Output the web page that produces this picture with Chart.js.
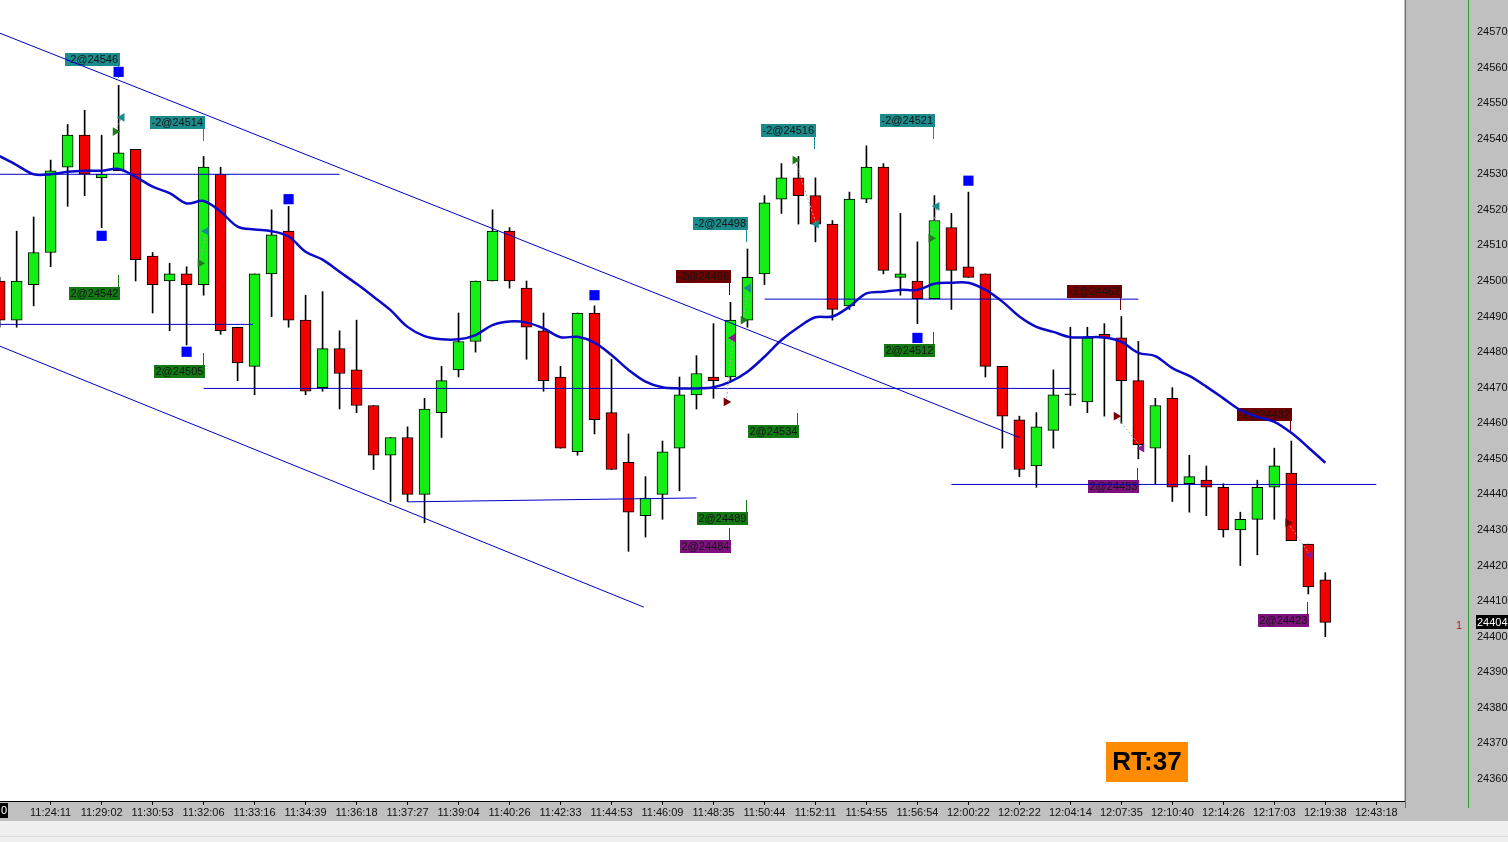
<!DOCTYPE html>
<html><head><meta charset="utf-8">
<script src="https://cdn.jsdelivr.net/npm/chart.js@4.4.1/dist/chart.umd.min.js"></script>
<style>html,body{margin:0;padding:0;background:#fff;overflow:hidden}#wrap{width:1508px;height:842px;position:relative}</style>
</head><body><div id="wrap"><canvas id="c" width="1508" height="842"></canvas></div>
<script>
// ---- candle data (one candle per index) ----
const opens  = [24500,24489,24499,24508,24532,24541,24529,24531,24537,24507,24500,24502,24499,24530,24487,24476,24502,24514,24489,24470,
                24481,24475,24465,24451,24456,24440,24463,24475,24483,24500,24514,24498,24486,24473,24452,24491,24463,24449,24434,24440,
                24453,24468,24473,24473,24489,24502,24523,24529,24524,24516,24493,24523,24532,24501,24500,24495,24515,24504,24502,24476,
                24461,24448,24458,24468,24466,24485,24484,24472,24453,24467,24443,24444,24442,24430,24433,24442,24446,24426,24416];
const highs  = [24501,24514,24518,24534,24544,24548,24541,24555,24537,24508,24505,24504,24535,24532,24487,24502,24520,24521,24496,24497,
                24486,24489,24465,24456,24459,24467,24476,24491,24500,24520,24515,24500,24491,24476,24491,24493,24478,24457,24445,24455,
                24473,24479,24488,24494,24509,24524,24533,24535,24529,24517,24525,24538,24533,24519,24511,24524,24519,24525,24502,24476,
                24462,24463,24475,24487,24487,24488,24490,24483,24467,24470,24451,24448,24443,24435,24444,24453,24455,24426,24418];
const lows   = [24487,24487,24493,24504,24521,24524,24515,24531,24500,24491,24486,24482,24496,24485,24472,24468,24490,24487,24468,24469,
                24464,24463,24447,24438,24438,24432,24456,24473,24480,24500,24498,24478,24469,24453,24451,24457,24447,24424,24428,24433,
                24441,24464,24467,24472,24487,24499,24519,24516,24511,24489,24492,24522,24502,24496,24488,24495,24492,24501,24473,24453,
                24445,24442,24453,24465,24463,24462,24460,24450,24443,24438,24435,24434,24428,24420,24423,24433,24427,24412,24400];
const closes = [24489,24500,24508,24531,24541,24530,24530,24536,24506,24499,24502,24499,24532,24486,24477,24502,24513,24489,24469,24481,
                24474,24465,24451,24456,24440,24464,24472,24483,24500,24514,24500,24487,24472,24453,24491,24461,24447,24435,24439,24452,
                24468,24474,24472,24489,24501,24522,24529,24524,24516,24492,24523,24532,24503,24502,24495,24517,24503,24501,24476,24462,
                24447,24459,24468,24468,24484,24484,24472,24454,24465,24442,24445,24442,24430,24433,24442,24448,24427,24414,24404];
// moving average read at each candle
const maValues = [24535.1,24532.6,24530,24530,24530.7,24531,24531,24531.5,24529.3,24526.5,24524.7,24521.8,24522.5,24519.5,24515.3,24514.5,24514,24512.5,24508.2,24506,
                  24502.6,24499.2,24495.6,24491.8,24487.1,24484.5,24483.6,24483.6,24484.8,24487.6,24488.6,24488.3,24486.7,24484.2,24484.3,24482.7,24479.2,24475,24471.7,24470.1,
                  24469.8,24469.8,24470.1,24471.7,24474.5,24478.7,24483.4,24487,24489.8,24490,24492.8,24496.5,24497,24497.5,24497.5,24499.2,24499.5,24499.5,24497.5,24494.2,
                  24490,24487.1,24485.7,24484.2,24484.2,24484.1,24482.9,24479.8,24478.9,24475.5,24473.3,24470.3,24467,24463.7,24461.8,24460.4,24457.3,24453.2,24448.9];
// ---- axis labels ----
const timeTickIdx = [3,6,9,12,15,18,21,24,27,30,33,36,39,42,45,48,51,54,57,60,63,66,69,72,75,78,81];
const timeLabels = ['11:24:11','11:29:02','11:30:53','11:32:06','11:33:16','11:34:39','11:36:18','11:37:27','11:39:04','11:40:26','11:42:33','11:44:53','11:46:09','11:48:35',
                    '11:50:44','11:52:11','11:54:55','11:56:54','12:00:22','12:02:22','12:04:14','12:07:35','12:10:40','12:14:26','12:17:03','12:19:38','12:43:18'];
const priceTicks = [24580,24570,24560,24550,24540,24530,24520,24510,24500,24490,24480,24470,24460,24450,24440,24430,24420,24410,24400,24390,24380,24370,24360];
// ---- drawn levels ----
const hLevels = [24530, 24487.8, 24469.8, 24494.9, 24442.8];
const hFrom   = [0, 0, 12, 45, 56];
const hTo     = [20, 14.9, 63, 67, 81];
const supportX = [24, 41];
const supportY = [24437.9, 24439];
const chanUpperX = [0, 60];
const chanUpperY = [24569.7, 24456];
const chanLowerX = [0, 37.9];
const chanLowerY = [24481.7, 24408.3];
// ---- signals ----
const sqIdx = [7, 6, 11, 17, 35, 54, 57];
const sqPx  = [24558.8, 24512.7, 24480.1, 24523, 24496, 24484, 24528.2];
const longEntryIdx = [6.8, 11.8, 43.75, 46.8, 54.8];
const longEntryPx  = [24542, 24505, 24489, 24534, 24512];
const longExitIdx  = [7.2, 12.15, 44.05, 48.05, 55.15];
const longExitPx   = [24546, 24514, 24498, 24516, 24521];
const shortEntryIdx = [42.75, 65.7, 75.8];
const shortEntryPx  = [24466, 24462, 24432];
const shortExitIdx  = [43.15, 67.2, 77.1];
const shortExitPx   = [24484, 24453, 24423];
const labelText = ['-2@24546','-2@24514','2@24542','2@24505','-2@24498','-2@24466','2@24489','2@24484','-2@24516','-2@24521','2@24534','2@24512','-2@24462','-2@24432','2@24453','2@24423'];
const labelIdx  = [7,12,7,12,44,43,44,43,48,55,47,55,66,76,67,77];
const labelPx   = [24562.5,24544.6,24496.5,24474.6,24516.2,24501.5,24433.5,24425.5,24542.4,24545.4,24457.7,24480.6,24497.2,24462.5,24442.5,24404.6];
const labelKind = ['lx','lx','le','le','lx','se','le','sx','lx','lx','le','le','se','se','sx','sx'];
const rtText = 'RT:37';

const kindColor = {lx:'#1b8b8b', le:'#137a13', se:'#6e0000', sx:'#7d117d'};
const idx = opens.map((_, i) => i);
const pts = (xa, ya) => xa.map((x, i) => ({x, y: ya[i]}));

const tradeLine = [];
longEntryIdx.forEach((x, i) => { tradeLine.push({x, y: longEntryPx[i]}, {x: longExitIdx[i], y: longExitPx[i]}, {x: longExitIdx[i] + 0.01, y: null}); });
shortEntryIdx.forEach((x, i) => { tradeLine.push({x, y: shortEntryPx[i]}, {x: shortExitIdx[i], y: shortExitPx[i]}, {x: shortExitIdx[i] + 0.01, y: null}); });
tradeLine.sort((a, b) => a.x - b.x);

const lineDs = (data, color, width, order) => ({type: 'line', data, borderColor: color, borderWidth: width, pointRadius: 0, fill: false, order});
const datasets = [
  {type: 'bar', data: idx.map(i => ({x: i, y: [lows[i], highs[i]]})), backgroundColor: '#000', barThickness: 1, grouped: false, order: 9},
  {type: 'bar', data: idx.map(i => ({x: i, y: [opens[i], closes[i] === opens[i] ? closes[i] + 0.3 : closes[i]]})),
   backgroundColor: idx.map(i => closes[i] > opens[i] ? '#14ee14' : (closes[i] < opens[i] ? '#f20000' : '#000')),
   borderColor: '#000', borderWidth: 1, borderSkipped: false, barThickness: 11, grouped: false, order: 8},
];
hLevels.forEach((v, i) => datasets.push(lineDs([{x: hFrom[i], y: v}, {x: hTo[i], y: v}], '#0000c8', 1, 7)));
datasets.push(lineDs(pts(supportX, supportY), '#0000c8', 1, 7));
datasets.push(lineDs(pts(chanUpperX, chanUpperY), '#0000c8', 1, 7));
datasets.push(lineDs(pts(chanLowerX, chanLowerY), '#0000c8', 1, 7));
datasets.push(Object.assign(lineDs(idx.map(i => ({x: i, y: maValues[i]})), '#0a0ac8', 2.5, 6), {tension: 0.35}));
datasets.push(Object.assign(lineDs(tradeLine, '#a8a8a8', 1, 5), {borderDash: [2, 2], spanGaps: false}));
const markDs = (xa, ya, color, style, rot, r) => ({type: 'scatter', data: pts(xa, ya), pointStyle: style, pointRotation: rot,
  pointRadius: r, pointBackgroundColor: color, pointBorderColor: color, pointBorderWidth: 0, order: 1});
datasets.push(markDs(sqIdx, sqPx, '#0000ff', 'rect', 0, 7.2));
datasets.push(markDs(longEntryIdx, longEntryPx, '#1e7b1e', 'triangle', 90, 5));
datasets.push(markDs(longExitIdx, longExitPx, '#1b8b8b', 'triangle', -90, 5));
datasets.push(markDs(shortEntryIdx, shortEntryPx, '#7a0000', 'triangle', 90, 5));
datasets.push(markDs(shortExitIdx, shortExitPx, '#8b1a8b', 'triangle', -90, 5));

const FONT = "'Liberation Sans', Arial, sans-serif";

const decor = {
  id: 'decor',
  beforeDraw(chart) {
    const c = chart.ctx, a = chart.chartArea;
    c.save();
    c.fillStyle = '#ffffff'; c.fillRect(0, 0, 1508, 842);
    c.fillStyle = '#c0c0c0';
    c.fillRect(a.right, 0, 1508 - a.right, 821);
    c.fillRect(0, a.bottom, 1508, 821 - a.bottom);
    c.fillStyle = '#f0f0f0'; c.fillRect(0, 821, 1508, 21);
    c.fillStyle = '#dadada'; c.fillRect(0, 836, 1508, 1);
    c.fillStyle = '#2f9a2f';
    c.fillRect(a.right + 1, 0, 1, 808);
    c.fillRect(1468, 0, 1, 808);
    c.restore();
  },
  beforeDatasetsDraw(chart) {
    const c = chart.ctx, xs = chart.scales.x, ys = chart.scales.y, a = chart.chartArea;
    c.save();
    c.beginPath(); c.rect(a.left, a.top, a.right - a.left, a.bottom - a.top); c.clip();
    c.font = '11px ' + FONT; c.textBaseline = 'middle'; c.textAlign = 'left';
    labelText.forEach((t, i) => {
      const right = Math.round(xs.getPixelForValue(labelIdx[i])) + 1;
      const cy = Math.round(ys.getPixelForValue(labelPx[i]));
      const w = Math.ceil(c.measureText(t).width) + 3, h = 13;
      const col = kindColor[labelKind[i]];
      c.fillStyle = col;
      c.fillRect(right - w, cy - 6, w, h);
      if (t[0] === '-') c.fillRect(right - 2, cy + 7, 1, 12);
      else c.fillRect(right - 2, cy - 18, 1, 12);
      c.fillStyle = '#161616';
      c.fillText(t, right - w + 1.5, cy + 1);
    });
    c.restore();
  },
  afterDraw(chart) {
    const c = chart.ctx, ys = chart.scales.y;
    c.save();
    // time cursor box at left of time axis
    c.fillStyle = '#000'; c.fillRect(0, 803, 8, 15);
    c.fillStyle = '#fff'; c.font = '11px ' + FONT; c.textBaseline = 'middle'; c.textAlign = 'left';
    c.fillText('0', 1, 811);
    // last price marker
    const ly = Math.round(ys.getPixelForValue(closes[closes.length - 1]));
    c.fillStyle = '#000'; c.fillRect(1476, ly - 7, 32, 14);
    c.fillStyle = '#fff'; c.fillText(String(closes[closes.length - 1]), 1477, ly + 1);
    // position marker
    c.fillStyle = '#d01010'; c.fillText('1', 1456, ly + 4);
    // RT box
    c.fillStyle = '#ff8c00'; c.fillRect(1106, 742, 82, 40);
    c.fillStyle = '#000'; c.font = 'bold 26px ' + FONT; c.textAlign = 'center';
    c.fillText(rtText, 1147, 763);
    c.restore();
  }
};

new Chart(document.getElementById('c'), {
  type: 'bar',
  data: {datasets},
  plugins: [decor],
  options: {
    responsive: false, devicePixelRatio: 1, animation: false, events: [],
    layout: {autoPadding: false, padding: {left: 0, right: 0, top: 0, bottom: 21}},
    plugins: {legend: {display: false}, tooltip: {enabled: false}},
    scales: {
      x: {
        type: 'linear', min: 0.02, max: 82.63, offset: false, position: 'bottom',
        grid: {display: true, drawOnChartArea: false, drawTicks: true, tickLength: 4, color: '#000', offset: false},
        border: {display: true, color: '#000', width: 1},
        ticks: {autoSkip: false, maxRotation: 0, minRotation: 0, padding: 1, color: '#111', font: {family: FONT, size: 11},
          callback: (v) => { const k = timeTickIdx.indexOf(v); return k >= 0 ? timeLabels[k] : ''; }},
        afterBuildTicks: s => { s.ticks = timeTickIdx.map(v => ({value: v})); },
        afterFit: s => { s.height = 20; s.paddingLeft = 0; s.paddingRight = 0; }
      },
      y: {
        type: 'linear', position: 'right', min: 24353.8, max: 24579.0,
        grid: {display: false, drawTicks: false}, border: {display: false},
        ticks: {padding: 73, color: '#111', font: {family: FONT, size: 11}, callback: v => String(v)},
        afterBuildTicks: s => { s.ticks = priceTicks.map(v => ({value: v})); },
        afterFit: s => { s.width = 104; s.paddingTop = 0; s.paddingBottom = 0; }
      }
    }
  }
});
</script></body></html>
